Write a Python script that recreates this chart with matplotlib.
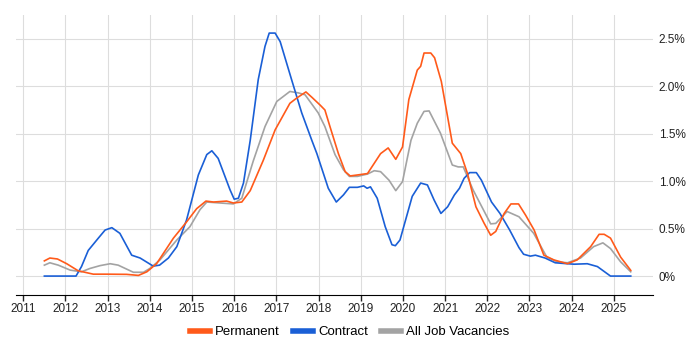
import matplotlib
matplotlib.use('Agg')
import matplotlib.pyplot as plt
from matplotlib.ticker import FuncFormatter

plt.rcParams['font.family'] = ['Liberation Sans', 'DejaVu Sans']

# Permanent
perm_x = [2011.50, 2011.63, 2011.81, 2012.03, 2012.30, 2012.66, 2012.98, 2013.45, 2013.73, 2013.93,
          2014.16, 2014.56, 2014.87, 2015.11, 2015.33, 2015.51, 2015.82, 2015.98, 2016.18, 2016.38,
          2016.69, 2016.97, 2017.32, 2017.48, 2017.70, 2017.85, 2018.04, 2018.15, 2018.27, 2018.47,
          2018.63, 2018.75, 2018.92, 2019.16,
          2019.47, 2019.65, 2019.83, 2019.99, 2020.14, 2020.34, 2020.42, 2020.50, 2020.66, 2020.75,
          2020.91, 2021.17, 2021.37, 2021.53, 2021.73, 2021.92, 2022.08, 2022.20, 2022.40, 2022.56,
          2022.74, 2022.91, 2023.11, 2023.34, 2023.58, 2023.90, 2024.13, 2024.45, 2024.65, 2024.77,
          2024.92, 2025.16, 2025.28, 2025.40]
perm_y = [0.16, 0.19, 0.18, 0.13, 0.056, 0.02, 0.02, 0.018, 0.007, 0.045,
          0.13, 0.40, 0.57, 0.71, 0.79, 0.78, 0.79, 0.77, 0.78, 0.90,
          1.22, 1.54, 1.82, 1.875, 1.94, 1.88, 1.80, 1.75, 1.575, 1.29,
          1.10, 1.055, 1.065, 1.08,
          1.29, 1.35, 1.23, 1.36, 1.86, 2.17, 2.21, 2.35, 2.35, 2.30,
          2.05, 1.40, 1.29, 1.08, 0.73, 0.56, 0.43, 0.47, 0.66, 0.76,
          0.76, 0.64, 0.485, 0.22, 0.17, 0.13, 0.17, 0.31, 0.44, 0.44,
          0.40, 0.20, 0.13, 0.06]

# Contract
cont_x = [2011.50, 2012.25, 2012.38, 2012.54, 2012.78, 2012.94, 2013.10, 2013.29, 2013.57, 2013.77,
          2014.08, 2014.23, 2014.44, 2014.64, 2014.87, 2015.15, 2015.35, 2015.47, 2015.62, 2015.90,
          2016.00, 2016.10, 2016.22, 2016.38, 2016.57, 2016.73, 2016.83, 2016.97, 2017.09, 2017.36,
          2017.60, 2017.84, 2017.96, 2018.23, 2018.42, 2018.59, 2018.73, 2018.92, 2019.07, 2019.15,
          2019.23, 2019.39, 2019.58, 2019.74, 2019.82, 2019.93, 2020.22, 2020.42, 2020.58, 2020.74,
          2020.90, 2021.06, 2021.22, 2021.34, 2021.45, 2021.58, 2021.74, 2021.86, 2022.10, 2022.30,
          2022.53, 2022.75, 2022.86, 2023.02, 2023.14, 2023.37, 2023.61, 2023.90, 2024.06, 2024.37,
          2024.61, 2024.92, 2025.40]
cont_y = [0.0, 0.0, 0.10, 0.27, 0.40, 0.485, 0.51, 0.45, 0.22, 0.19,
          0.105, 0.115, 0.19, 0.31, 0.59, 1.065, 1.28, 1.32, 1.24, 0.91,
          0.81, 0.82, 0.98, 1.43, 2.07, 2.42, 2.56, 2.56, 2.47, 2.07,
          1.72, 1.43, 1.29, 0.925, 0.78, 0.855, 0.935, 0.935, 0.95, 0.925,
          0.94, 0.82, 0.52, 0.33, 0.32, 0.38, 0.84, 0.98, 0.96, 0.80,
          0.66, 0.73, 0.855, 0.925, 1.03, 1.09, 1.09, 1.01, 0.78, 0.66,
          0.485, 0.30, 0.23, 0.21, 0.22, 0.19, 0.14, 0.13, 0.125, 0.13,
          0.10, 0.0, 0.0]

# All Job Vacancies
all_x = [2011.50, 2011.63, 2011.83, 2012.11, 2012.38, 2012.58, 2012.82, 2013.06, 2013.25, 2013.61,
         2013.85, 2014.00, 2014.24, 2014.64, 2014.95, 2015.19, 2015.35, 2015.66, 2015.98, 2016.18,
         2016.45, 2016.73, 2017.01, 2017.32, 2017.52, 2017.68, 2017.99, 2018.15, 2018.39, 2018.59,
         2018.73, 2018.92, 2019.16, 2019.32, 2019.47, 2019.67, 2019.83, 2019.99, 2020.19, 2020.34,
         2020.50, 2020.62, 2020.89, 2021.17, 2021.31, 2021.43, 2021.66, 2022.08, 2022.20, 2022.47,
         2022.75, 2023.10, 2023.41, 2023.66, 2023.90, 2024.21, 2024.52, 2024.74, 2024.92, 2025.16,
         2025.40]
all_y = [0.115, 0.14, 0.115, 0.063, 0.045, 0.08, 0.11, 0.13, 0.115, 0.04,
         0.04, 0.08, 0.17, 0.38, 0.52, 0.70, 0.78, 0.77, 0.76, 0.82,
         1.21, 1.575, 1.84, 1.945, 1.93, 1.91, 1.72, 1.575, 1.28, 1.12,
         1.05, 1.05, 1.075, 1.11, 1.10, 1.01, 0.90, 0.995, 1.43, 1.61,
         1.735, 1.74, 1.505, 1.17, 1.15, 1.15, 0.91, 0.55, 0.555, 0.68,
         0.625, 0.45, 0.20, 0.15, 0.14, 0.19, 0.31, 0.35, 0.29, 0.15,
         0.045]

years = list(range(2011, 2026))

fig = plt.figure(figsize=(7, 3.5), dpi=100)
ax = fig.add_axes([0.023, 0.157, 0.91, 0.8])

ax.plot(all_x, all_y, color='#a3a3a3', lw=1.2, label='All Job Vacancies', zorder=2)
ax.plot(cont_x, cont_y, color='#1a5fd6', lw=1.2, label='Contract', zorder=3)
ax.plot(perm_x, perm_y, color='#ff5a1a', lw=1.2, label='Permanent', zorder=4)

ax.set_xlim(2010.83, 2025.93)
ax.set_ylim(-0.2, 2.75)
ax.set_xticks(years)
ax.set_xticklabels([str(y) for y in years])
ax.set_yticks([0, 0.5, 1.0, 1.5, 2.0, 2.5])
ax.yaxis.set_major_formatter(FuncFormatter(lambda v, p: '0%' if v == 0 else '%.1f%%' % v))
ax.yaxis.tick_right()
ax.tick_params(axis='y', length=0, pad=4, labelsize=8.5, colors='#222222')
ax.tick_params(axis='x', length=4, width=1, labelsize=8.5, colors='#222222', pad=2)
ax.grid(True, color='#dddddd', lw=0.8)
ax.set_axisbelow(True)
for s in ['top', 'left', 'right']:
    ax.spines[s].set_visible(False)
ax.spines['bottom'].set_color('#000000')

handles, labels = ax.get_legend_handles_labels()
order = [2, 1, 0]
leg = fig.legend([handles[i] for i in order], [labels[i] for i in order],
                 loc='lower center', bbox_to_anchor=(0.5, 0.0), ncol=3, frameon=False,
                 fontsize=9.5, handlelength=1.5, handletextpad=0.4, columnspacing=1.0)
for line in leg.get_lines():
    line.set_linewidth(4)

fig.savefig('out.png', dpi=100)
